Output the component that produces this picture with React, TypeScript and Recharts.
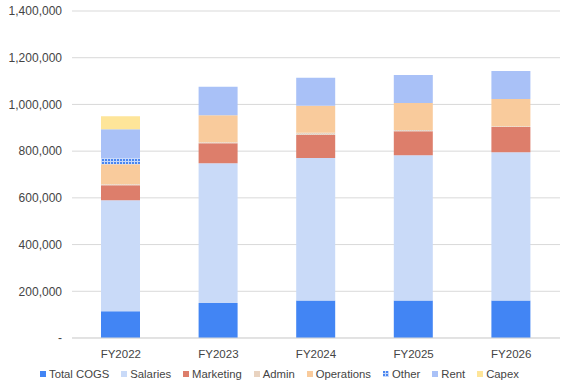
import React from 'react';
import { BarChart, Bar, XAxis, YAxis, CartesianGrid, Legend } from 'recharts';

// Categorias e valores
const years = ['FY2022', 'FY2023', 'FY2024', 'FY2025', 'FY2026'];
const totalCogs = [114000, 150000, 161000, 161000, 161000];
const salaries = [476000, 598000, 610000, 621000, 634000];
const marketing = [64000, 86000, 98000, 103000, 108000];
const admin = [4000, 4000, 10000, 5000, 4000];
const operations = [86000, 116000, 115000, 116000, 116000];
const other = [26000, 0, 0, 0, 0];
const rent = [124000, 122000, 120000, 120000, 120000];
const capex = [55000, 0, 0, 0, 0];
const yTicks = [0, 200000, 400000, 600000, 800000, 1000000, 1200000, 1400000];

const series = [
  { key: 'Total COGS', values: totalCogs, fill: '#4285f4' },
  { key: 'Salaries', values: salaries, fill: '#c9daf8' },
  { key: 'Marketing', values: marketing, fill: '#dd7e6b' },
  { key: 'Admin', values: admin, fill: 'url(#adminPattern)' },
  { key: 'Operations', values: operations, fill: '#f9cb9c' },
  { key: 'Other', values: other, fill: 'url(#otherPattern)' },
  { key: 'Rent', values: rent, fill: '#a9c1f7' },
  { key: 'Capex', values: capex, fill: '#fee599' },
];

const data = years.map((name, i) => {
  const row: any = { name };
  series.forEach((s) => (row[s.key] = s.values[i]));
  return row;
});

const fmt = (v: number) => (v === 0 ? '-' : v.toLocaleString('en-US'));

// legenda na ordem original (o Recharts ordena por nome)
const renderLegend = () => (
  <div style={{ display: 'flex', height: 24, alignItems: 'center', paddingLeft: 40, fontSize: 11.3, color: '#444' }}>
    {series.map((s) => (
      <div key={s.key} style={{ display: 'flex', alignItems: 'center', marginRight: 12 }}>
        <svg width={6} height={6} style={{ marginRight: 3 }}>
          <rect width={6} height={6} fill={s.key === 'Admin' ? '#e9d3c0' : s.fill} />
        </svg>
        <span>{s.key}</span>
      </div>
    ))}
  </div>
);

export default function App() {
  return (
    <div style={{ position: 'absolute', left: 0, top: 0, fontFamily: '"Liberation Sans", Arial, sans-serif' }}>
      <BarChart width={576} height={390} data={data} margin={{ top: 11, right: 16, left: 0, bottom: 4 }}>
        <defs>
          <pattern id="otherPattern" width="3" height="3" patternUnits="userSpaceOnUse">
            <rect width="3" height="3" fill="#c6d8fa" />
            <rect width="2" height="2" fill="#4a86f0" />
          </pattern>
          <pattern id="adminPattern" width="2" height="2" patternUnits="userSpaceOnUse">
            <rect width="2" height="2" fill="#f2d2b4" />
            <rect width="1" height="1" fill="#dcdcdc" />
            <rect x="1" y="1" width="1" height="1" fill="#dcdcdc" />
          </pattern>
        </defs>
        <CartesianGrid vertical={false} stroke="#d9d9d9" />
        <XAxis
          dataKey="name"
          tickLine={false}
          axisLine={{ stroke: '#d9d9d9' }}
          tick={{ fill: '#444', fontSize: 11.5 }}
          tickMargin={6}
          height={24}
        />
        <YAxis
          domain={[0, 1400000]}
          ticks={yTicks}
          tickFormatter={fmt}
          tickLine={false}
          axisLine={false}
          tick={{ fill: '#444', fontSize: 12 }}
          width={72}
          tickMargin={4}
        />
        <Legend content={renderLegend} wrapperStyle={{ left: 0, width: 576 }} />
        {series.map((s) => (
          <Bar key={s.key} dataKey={s.key} stackId="a" fill={s.fill} barSize={39} isAnimationActive={false} />
        ))}
      </BarChart>
    </div>
  );
}
